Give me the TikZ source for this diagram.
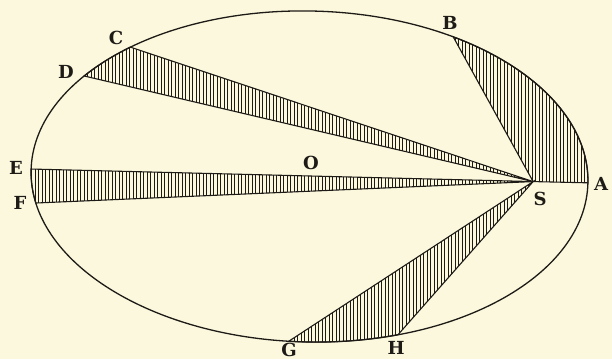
\documentclass[tikz,border=0pt]{standalone}
\usepackage{fontspec}
\newfontfamily\lblfont{DejaVu Serif}
\usetikzlibrary{patterns.meta}
\definecolor{paper}{RGB}{251,248,222}
\definecolor{ink}{RGB}{30,26,22}
\begin{document}
\begin{tikzpicture}[x=1pt,y=-1pt,
  lbl/.style={font=\lblfont\bfseries\fontsize{18}{18}\selectfont, text=ink, inner sep=0pt},
  sector/.style={draw=ink, line width=1.1pt, line join=miter,
    pattern={Lines[angle=90,distance=3.5pt,line width=0.85pt]}, pattern color=ink},
  orbit/.style={draw=ink, line width=1.3pt}]
\fill[paper] (0,0) rectangle (612,359);
\useasboundingbox (0,0) rectangle (612,359);
\begin{scope}[shift={(309.5,176.5)}, rotate=-1.3]
  \coordinate (O) at (0pt,0pt);
  \coordinate (S) at (223.7pt,0pt);
  \coordinate (A) at (0:278.5pt and 165.5pt);
  \coordinate (B) at (59.7:278.5pt and 165.5pt);
  \coordinate (C) at (130.8:278.5pt and 165.5pt);
  \coordinate (D) at (144.8:278.5pt and 165.5pt);
  \coordinate (E) at (179.6:278.5pt and 165.5pt);
  \coordinate (F) at (191.4:278.5pt and 165.5pt);
  \coordinate (G) at (266.5:278.5pt and 165.5pt);
  \coordinate (H) at (289.3:278.5pt and 165.5pt);
  \path[sector] (S) -- (B) arc[start angle=59.7, end angle=0, x radius=278.5pt, y radius=165.5pt] -- cycle;
  \path[sector] (S) -- (C) arc[start angle=130.8, end angle=144.8, x radius=278.5pt, y radius=165.5pt] -- cycle;
  \path[sector] (S) -- (E) arc[start angle=179.6, end angle=191.4, x radius=278.5pt, y radius=165.5pt] -- cycle;
  \path[sector] (S) -- (G) arc[start angle=266.5, end angle=289.3, x radius=278.5pt, y radius=165.5pt] -- cycle;
  \draw[orbit] (O) ellipse[x radius=278.5pt, y radius=165.5pt];
\end{scope}
\node[lbl] (lA) at (601,184) {A};
\node[lbl] (lS) at (540,199) {S};
\node[lbl] (lB) at (450,23) {B};
\node[lbl] (lC) at (116,38) {C};
\node[lbl] (lD) at (66,72) {D};
\node[lbl] (lE) at (16,168) {E};
\node[lbl] (lF) at (20,203) {F};
\node[lbl] (lG) at (289,349.5) {G};
\node[lbl] (lH) at (396,348) {H};
\node[lbl] (lO) at (311,163) {O};
\end{tikzpicture}
\end{document}
